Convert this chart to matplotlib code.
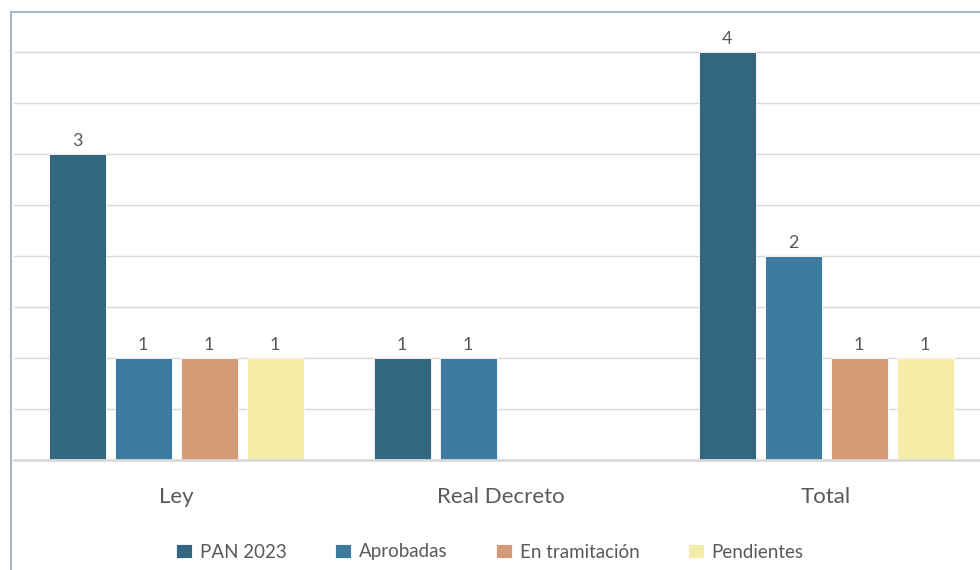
import matplotlib
matplotlib.use("Agg")
from matplotlib import pyplot as plt
from matplotlib.lines import Line2D
import numpy as np

plt.rcParams['font.family'] = ['Lato', 'DejaVu Sans']

categories = ["Ley", "Real Decreto", "Total"]
series_names = ["PAN 2023", "Aprobadas", "En tramitación", "Pendientes"]
pan_2023 = [3, 1, 4]
aprobadas = [1, 1, 2]
en_tramitacion = [1, None, 1]
pendientes = [1, None, 1]
colors = ["#336781", "#3d7ba0", "#d49b76", "#f5eca7"]

values = [pan_2023, aprobadas, en_tramitacion, pendientes]
text_color = "#595959"

fig = plt.figure(figsize=(9.8, 5.7), dpi=100)
W, H = 980, 570
# plot area in pixels: x from 13.5 to 988.5, y from 460 (zero) to 12
ax = fig.add_axes([13.5 / W, (H - 460) / H, 975 / W, 448 / H])

x = np.arange(len(categories))
step = 66 / 325
width = 57 / 325
offsets = (np.arange(4) - 1.5) * step

for i, (name, vals) in enumerate(zip(series_names, values)):
    xs = [x[j] + offsets[i] for j in range(len(vals)) if vals[j] is not None]
    vs = [v for v in vals if v is not None]
    bars = ax.bar(xs, vs, width, color=colors[i], label=name, zorder=3,
                  edgecolor="white", linewidth=0.6)
    for b, v in zip(bars, vs):
        ax.text(b.get_x() + b.get_width() / 2, v + 0.05, str(v),
                ha="center", va="bottom", fontsize=13, color=text_color)

ax.set_xlim(-0.5, 2.5)
ax.set_ylim(0, 448 / 102)
ax.set_yticks(np.arange(0.5, 4.01, 0.5))
ax.yaxis.grid(True, color="#d9d9d9", linewidth=1, zorder=0)
ax.tick_params(axis="y", left=False, labelleft=False)
ax.set_xticks(x)
ax.set_xticklabels(categories, fontsize=16, color=text_color)
ax.tick_params(axis="x", bottom=False, pad=16)
for s in ["top", "right", "left"]:
    ax.spines[s].set_visible(False)
ax.spines["bottom"].set_color("#d9d9d9")
ax.spines["bottom"].set_linewidth(2)
ax.spines["bottom"].set_zorder(4)

leg = fig.legend(loc="center", bbox_to_anchor=(0.5, (H - 552) / H), ncol=4,
                 frameon=False, fontsize=13.5, handlelength=0.85, handleheight=0.85,
                 handletextpad=0.4, columnspacing=2.6, labelcolor=text_color)

# outer chart border (cropped)
fig.add_artist(Line2D([11 / W, 11 / W], [0, (H - 12) / H], color="#a9b5c5", linewidth=1.5))
fig.add_artist(Line2D([11 / W, 1], [(H - 12) / H, (H - 12) / H], color="#a9b5c5", linewidth=1.5))

fig.savefig("out.png", dpi=100)
